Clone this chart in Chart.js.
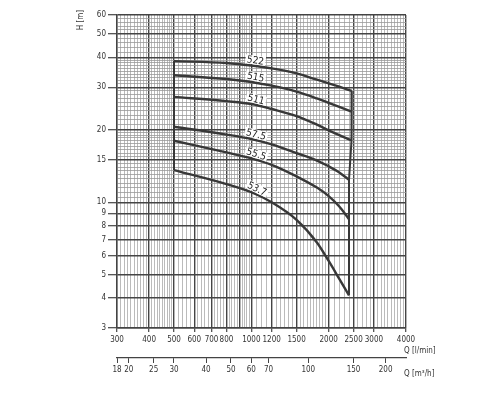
<!DOCTYPE html>
<html><head><meta charset="utf-8">
<script src="https://cdn.jsdelivr.net/npm/chart.js@4/dist/chart.umd.min.js"></script>
<style>html,body{margin:0;padding:0;background:#fff}</style>
</head><body>
<canvas id="c" width="500" height="398"></canvas>
<script>
// ---- data ----
const curveLabels = ['522', '515', '511', '57.5', '55.5', '53.7'];
const flowQ = [500, 800, 1000, 1200, 1500, 1800, 2000, 2200];      // l/min
const endQ = [2460, 2460, 2450, 2400, 2400, 2400];                   // last point of each curve
const head522 = [38.6, 37.9, 37.0, 36.0, 34.3, 32.3, 31.2, 30.2, 29.0];
const head515 = [33.7, 32.5, 31.6, 30.5, 28.8, 27.0, 25.9, 24.9, 23.8];
const head511 = [27.4, 26.3, 25.6, 24.4, 22.8, 21.0, 19.9, 19.0, 18.1];
const head575 = [20.6, 19.1, 18.3, 17.4, 16.0, 14.9, 14.1, 13.3, 12.4];
const head555 = [18.0, 16.1, 15.2, 14.3, 12.8, 11.5, 10.6, 9.6, 8.5];
const head537 = [13.6, 11.9, 11.0, 10.0, 8.45, 6.8, 5.7, 4.8, 4.1];
const qTickLabels = [300, 400, 500, 600, 700, 800, 1000, 1200, 1500, 2000, 2500, 3000, 4000];
const qMajorLines = [300, 400, 500, 600, 700, 800, 900, 1000, 1200, 1500, 2000, 2500, 3000, 4000];
const hTickLabels = [3, 4, 5, 6, 7, 8, 9, 10, 15, 20, 30, 40, 50, 60];
const qm3TickLabels = [18, 20, 25, 30, 40, 50, 60, 70, 100, 150, 200];

const heads = [head522, head515, head511, head575, head555, head537];

// fine grid of the log paper (steps of the printed paper)
function steps(a, b, s) { const r = []; for (let v = a; v < b - 1e-9; v += s) r.push(+v.toFixed(3)); return r; }
const qGrid = [...new Set([].concat(steps(300, 500, 10), steps(500, 1000, 20), steps(1000, 2000, 50), steps(2000, 4000, 100), [4000], qMajorLines))].sort((a, b) => a - b);
const hGrid = [...new Set([].concat([3, 4, 5, 6, 7, 8, 9], steps(10, 20, 0.5), steps(20, 40, 1), steps(40, 60, 2), [60], hTickLabels))].sort((a, b) => a - b);

const FONT = "'Liberation Sans Narrow','DejaVu Sans Condensed','Liberation Sans',sans-serif";
const INK = '#383838';

const curveSets = heads.map((h, i) => ({
  label: curveLabels[i],
  data: h.map((v, k) => ({ x: k < flowQ.length ? flowQ[k] : endQ[i], y: v })),
  borderColor: INK, borderWidth: 2.4, pointRadius: 0, fill: false,
  tension: 0.4, cubicInterpolationMode: 'monotone'
}));
const leftEdge = {
  label: 'left', data: heads.map(h => ({ x: flowQ[0], y: h[0] })),
  borderColor: INK, borderWidth: 2, pointRadius: 0, fill: false, tension: 0
};
const rightEdge = {
  label: 'right', data: heads.map((h, i) => ({ x: endQ[i], y: h[h.length - 1] })),
  borderColor: INK, borderWidth: 2, pointRadius: 0, fill: false, tension: 0
};

const isMajorQ = v => qMajorLines.includes(v);
const isMajorH = v => hTickLabels.includes(v);

const annot = {
  id: 'annot',
  afterDatasetsDraw(chart) {
    const ctx = chart.ctx;
    const xs = chart.scales.x;
    const targetX = xs.getPixelForValue(1030);
    ctx.save();
    curveLabels.forEach((lab, i) => {
      const pts = chart.getDatasetMeta(i).data;
      for (let k = 0; k < pts.length - 1; k++) {
        const a = pts[k], b = pts[k + 1];
        if (a.x <= targetX && b.x >= targetX) {
          const t = (targetX - a.x) / (b.x - a.x);
          const y = a.y + t * (b.y - a.y);
          const ang = Math.atan2(b.y - a.y, b.x - a.x);
          ctx.save();
          ctx.translate(targetX, y);
          ctx.rotate(ang);
          ctx.font = '10px ' + FONT;
          const w = ctx.measureText(lab).width;
          ctx.fillStyle = '#fff';
          ctx.fillRect(-w / 2 - 1.5, -10.5, w + 3, 9);
          ctx.fillStyle = '#222';
          ctx.textAlign = 'center';
          ctx.textBaseline = 'alphabetic';
          ctx.fillText(lab, 0, -2.5);
          ctx.restore();
          break;
        }
      }
    });
    // axis unit titles
    ctx.fillStyle = '#333';
    ctx.font = '8px ' + FONT;
    ctx.textAlign = 'left';
    ctx.textBaseline = 'middle';
    ctx.fillText('Q [l/min]', 404, 351);
    ctx.fillText('Q [m³/h]', 404, 374);
    ctx.save();
    ctx.translate(81, 20);
    ctx.rotate(-Math.PI / 2);
    ctx.textAlign = 'center';
    ctx.fillText('H [m]', 0, 0);
    ctx.restore();
    ctx.restore();
  }
};

new Chart(document.getElementById('c'), {
  type: 'line',
  data: { datasets: [...curveSets, leftEdge, rightEdge] },
  options: {
    responsive: false, animation: false, devicePixelRatio: 1,
    layout: { padding: { left: 0, right: 94, top: 15, bottom: 0 } },
    plugins: { legend: { display: false }, tooltip: { enabled: false } },
    scales: {
      x: {
        type: 'logarithmic', position: 'bottom', min: 300, max: 4000, weight: 0,
        afterBuildTicks: s => { s.ticks = qGrid.map(v => ({ value: v })); },
        afterFit: s => { s.height = 30; },
        grid: {
          color: c => isMajorQ(c.tick.value) ? '#444' : '#aaa',
          lineWidth: c => isMajorQ(c.tick.value) ? 1.4 : 0.8,
          tickColor: c => qTickLabels.includes(c.tick.value) ? '#444' : 'rgba(0,0,0,0)',
          tickLength: 4, tickWidth: 1.2
        },
        border: { display: true, color: '#444', width: 1.4 },
        ticks: {
          autoSkip: false, maxRotation: 0, minRotation: 0, padding: 3,
          color: '#333', font: { family: FONT, size: 8 },
          callback: v => qTickLabels.includes(v) ? String(v) : ''
        }
      },
      x2: {
        type: 'logarithmic', position: 'bottom', min: 18, max: 240, weight: 1,
        afterBuildTicks: s => { s.ticks = qm3TickLabels.map(v => ({ value: v })); },
        afterFit: s => { s.height = 40; },
        grid: { drawOnChartArea: false, color: '#444', tickLength: 5, tickWidth: 1 },
        border: { display: true, color: '#444', width: 1.2 },
        ticks: {
          autoSkip: false, maxRotation: 0, minRotation: 0, padding: 2,
          color: '#333', font: { family: FONT, size: 8 },
          callback: v => String(v)
        }
      },
      y: {
        type: 'logarithmic', position: 'left', min: 3, max: 60,
        afterBuildTicks: s => { s.ticks = hGrid.map(v => ({ value: v })); },
        afterFit: s => { s.width = 117; },
        grid: {
          color: c => isMajorH(c.tick.value) ? '#444' : '#999',
          lineWidth: c => isMajorH(c.tick.value) ? 1.4 : 0.8,
          tickColor: c => isMajorH(c.tick.value) ? '#444' : 'rgba(0,0,0,0)',
          tickLength: 9, tickWidth: 1.2
        },
        border: { display: true, color: '#444', width: 1.4 },
        ticks: {
          autoSkip: false, padding: 2, color: '#333', font: { family: FONT, size: 8 },
          callback: v => isMajorH(v) ? String(v) : ''
        }
      }
    }
  },
  plugins: [annot]
});
</script>
</body></html>
